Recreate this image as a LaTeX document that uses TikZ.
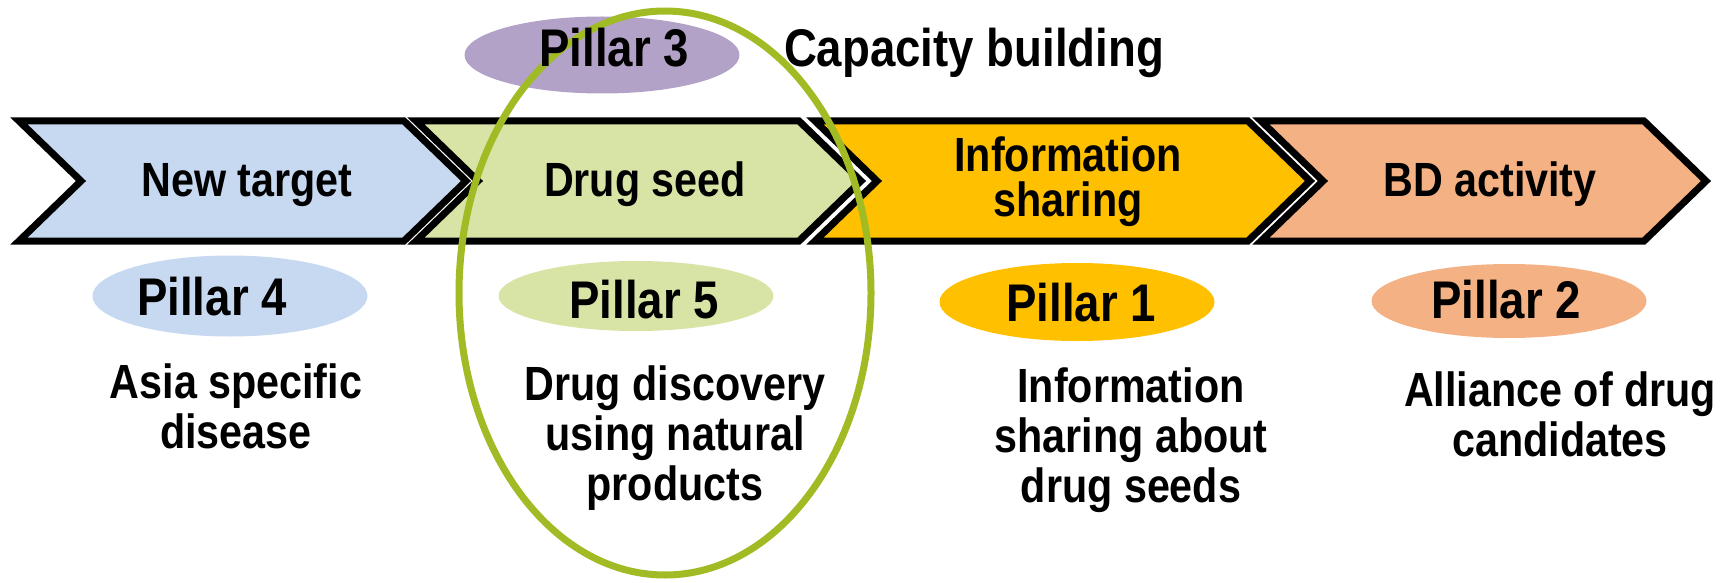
\documentclass[tikz,border=0pt]{standalone}
\usepackage{fontspec}
\setmainfont{Liberation Sans}[FakeStretch=0.86]
\usetikzlibrary{shapes.geometric}
\definecolor{tgtblue}{HTML}{C6D9F1}
\definecolor{seedgreen}{HTML}{D7E4A5}
\definecolor{infoyellow}{HTML}{FFC000}
\definecolor{bdpeach}{HTML}{F4B183}
\definecolor{cappurple}{HTML}{B3A2C7}
\definecolor{ringgreen}{RGB}{160,187,36}

\begin{document}
\begin{tikzpicture}[x=1pt,y=-1pt,
  chev/.style={draw=black,line width=7pt,miter limit=10},
  pill/.style={ellipse,inner sep=0pt,minimum width=275pt,minimum height=78pt},
  big/.style={anchor=base,inner sep=0pt,font=\fontsize{53}{58}\selectfont\bfseries},
  txt/.style={anchor=base,inner sep=0pt,align=center,font=\fontsize{48}{50}\selectfont\bfseries}]
\useasboundingbox (0,0) rectangle (1735,583);
% top pillar
\node at (602,55)[pill,fill=cappurple,minimum height=77pt] (p3) {};
% the four steps
\draw[chev,fill=tgtblue] (19,121) -- (404,121) -- (466,181) -- (404,241) -- (19,241) -- (81,181) -- cycle;
\draw[chev,fill=seedgreen] (416,121) -- (799,121) -- (861,181) -- (799,241) -- (416,241) -- (478,181) -- cycle;
\draw[chev,fill=infoyellow] (815,121) -- (1248,121) -- (1310,181) -- (1248,241) -- (815,241) -- (877,181) -- cycle;
\draw[chev,fill=bdpeach] (1261,121) -- (1644,121) -- (1706,181) -- (1644,241) -- (1261,241) -- (1323,181) -- cycle;
\node at (247,196)[txt] (target) {New target};
\node at (645,196)[txt] (seed) {Drug seed};
\node at (1068,216)[txt,font=\fontsize{48}{45}\selectfont\bfseries] (info) {Information\\sharing};
\node at (1490,196)[txt] (bd) {BD activity};
% pillars below
\node at (230,296)[pill,fill=tgtblue,minimum height=81pt] (p4) {};
\node at (636,296)[pill,fill=seedgreen,minimum height=70pt] (p5) {};
\node at (1077,302)[pill,fill=infoyellow] (p1) {};
\node at (1509,301)[pill,fill=bdpeach,minimum height=74pt] (p2) {};
% ring round pillar 5
\draw[ringgreen,line width=7pt] (665,293) ellipse [x radius=206, y radius=282];
\node at (614,67)[big] (t3) {Pillar 3};
\node at (974,67)[big] (cap) {Capacity building};
\node at (212,315)[big] (t4) {Pillar 4};
\node at (644,318)[big] (t5) {Pillar 5};
\node at (1081,321)[big] (t1) {Pillar 1};
\node at (1506,318)[big] (t2) {Pillar 2};
\node at (236,448)[txt] (asia) {Asia specific\\disease};
\node at (675,500)[txt] (natural) {Drug discovery\\using natural\\products};
\node at (1131,502)[txt] (about) {Information\\sharing about\\drug seeds};
\node at (1560,456)[txt] (alliance) {Alliance of drug\\candidates};
\end{tikzpicture}
\end{document}
